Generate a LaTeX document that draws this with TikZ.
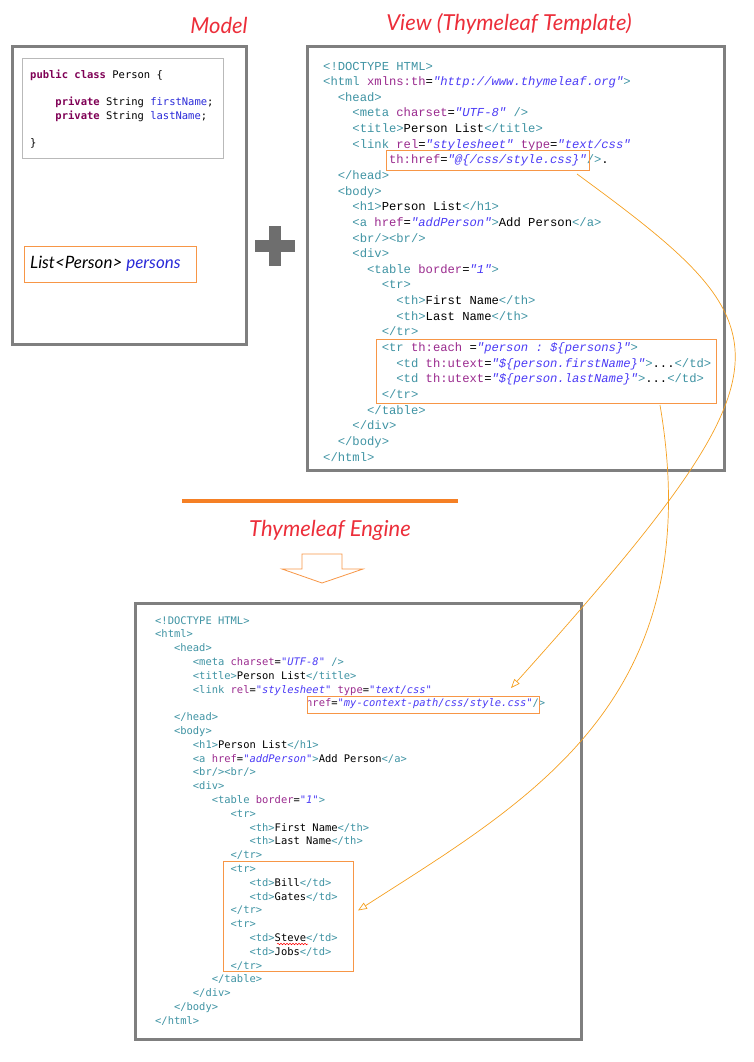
\documentclass[tikz,border=0pt]{standalone}
\usepackage{fontspec}
\setmonofont{Liberation Mono}
\newfontfamily\consolefont{DejaVu Sans Mono}
\newfontfamily\handfont{Lato}
\usetikzlibrary{arrows.meta}
\usetikzlibrary{decorations.pathmorphing}

\definecolor{tagc}{HTML}{3F93A3}
\definecolor{attc}{HTML}{9A2A8E}
\definecolor{valc}{HTML}{4A3AF5}
\definecolor{keyc}{HTML}{7F0055}
\definecolor{fieldc}{HTML}{2A2AD8}
\definecolor{framegray}{HTML}{7F7F7F}
\definecolor{hlorange}{HTML}{F79646}
\definecolor{ruleorange}{HTML}{F58025}
\definecolor{linkorange}{HTML}{F5A020}
\definecolor{titlered}{HTML}{EC2E3A}
\definecolor{plusgray}{HTML}{6E6E6E}

\newcommand{\htag}[1]{\textcolor{tagc}{#1}}
\newcommand{\hatt}[1]{\textcolor{attc}{#1}}
\newcommand{\hval}[1]{\textcolor{valc}{\itshape #1}}
\newcommand{\jkw}[1]{\textcolor{keyc}{\bfseries #1}}
\newcommand{\jfld}[1]{\textcolor{fieldc}{#1}}
\newcommand{\cind}[1]{\hspace*{#1\fontcharwd\font`x}}

\begin{document}
\begin{tikzpicture}[x=1pt,y=-1pt,
    frame/.style={draw=framegray, line width=3pt},
    hlbox/.style={draw=hlorange, line width=1pt, inner sep=0pt, anchor=north west},
    code/.style={anchor=base west, align=left, inner sep=0pt},
    title/.style={font=\handfont\itshape\fontsize{22}{24}\selectfont, text=titlered},
    flow/.style={draw=linkorange, line width=0.7pt, -{Triangle[open,length=9pt,width=7pt]}}]
  \useasboundingbox (0,0) rectangle (753,1062);

  % titles
  \node[title] (modeltitle) at (219,25) {Model};
  \node[title] (viewtitle) at (509,24) {View (Thymeleaf Template)};
  \node[title] (enginetitle) at (330,530) {Thymeleaf Engine};

  % model (code nodes sit on the baseline of their last line)
  \draw[frame] (12,47) rectangle (246,344);
  \draw[gray!55, line width=0.8pt] (22,58) rectangle (223,158);
  \node[code, font=\consolefont\fontsize{10.5}{13.7}\selectfont] (javacode) at (30,146.5) {%
    \jkw{public class} Person \{\\
    \mbox{}\\
    \cind{4}\jkw{private} String \jfld{firstName};\\
    \cind{4}\jkw{private} String \jfld{lastName};\\
    \mbox{}\\
    \}};
  \node[hlbox, minimum width=172pt, minimum height=36pt] (listbox) at (24,246) {};
  \node[anchor=west, inner sep=0pt, font=\handfont\itshape\fontsize{17}{19}\selectfont] (listtxt) at (30,264) {List<Person> \textcolor{fieldc}{persons}};

  % plus
  \draw[plusgray, line width=12pt] (255,246) -- (295,246);
  \draw[plusgray, line width=12pt] (275,226) -- (275,266);

  % template
  \draw[frame] (307,47) rectangle (724,470);
  \node[code, font=\ttfamily\fontsize{12.2}{15.64}\selectfont] (viewcode) at (323,461) {%
    \htag{<!DOCTYPE HTML>}\\
    \htag{<html} \hatt{xmlns:th}=\hval{"http://www.thymeleaf.org"}\htag{>}\\
    \cind{2}\htag{<head>}\\
    \cind{4}\htag{<meta} \hatt{charset}=\hval{"UTF-8"} \htag{/>}\\
    \cind{4}\htag{<title>}Person List\htag{</title>}\\
    \cind{4}\htag{<link} \hatt{rel}=\hval{"stylesheet"} \hatt{type}=\hval{"text/css"}\\
    \cind{9}\hatt{th:href}=\hval{"@\{/css/style.css\}"}\htag{/>}.\\
    \cind{2}\htag{</head>}\\
    \cind{2}\htag{<body>}\\
    \cind{4}\htag{<h1>}Person List\htag{</h1>}\\
    \cind{4}\htag{<a} \hatt{href}=\hval{"addPerson"}\htag{>}Add Person\htag{</a>}\\
    \cind{4}\htag{<br/><br/>}\\
    \cind{4}\htag{<div>}\\
    \cind{6}\htag{<table} \hatt{border}=\hval{"1"}\htag{>}\\
    \cind{8}\htag{<tr>}\\
    \cind{10}\htag{<th>}First Name\htag{</th>}\\
    \cind{10}\htag{<th>}Last Name\htag{</th>}\\
    \cind{8}\htag{</tr>}\\
    \cind{8}\htag{<tr} \hatt{th:each} =\hval{"person : \$\{persons\}"}\htag{>}\\
    \cind{10}\htag{<td} \hatt{th:utext}=\hval{"\$\{person.firstName\}"}\htag{>}...\htag{</td>}\\
    \cind{10}\htag{<td} \hatt{th:utext}=\hval{"\$\{person.lastName\}"}\htag{>}...\htag{</td>}\\
    \cind{8}\htag{</tr>}\\
    \cind{6}\htag{</table>}\\
    \cind{4}\htag{</div>}\\
    \cind{2}\htag{</body>}\\
    \htag{</html>}};
  \node[hlbox, minimum width=203pt, minimum height=20pt] (hrefsrc) at (386,150) {};
  \node[hlbox, minimum width=340pt, minimum height=64pt] (eachsrc) at (376,339) {};

  % engine
  \draw[ruleorange, line width=3.5pt] (182,501) -- (458,501);
  \draw[hlorange, line width=0.8pt] (302,554) -- (342,554) -- (342,569) -- (363,569)
    -- (322,583) -- (282,569) -- (302,569) -- cycle;

  % result
  \draw[frame] (135,603) rectangle (581,1039);
  \node[code, font=\consolefont\fontsize{10.45}{13.8}\selectfont] (resultcode) at (155,1024.2) {%
    \htag{<!DOCTYPE HTML>}\\
    \htag{<html>}\\
    \cind{3}\htag{<head>}\\
    \cind{6}\htag{<meta} \hatt{charset}=\hval{"UTF-8"} \htag{/>}\\
    \cind{6}\htag{<title>}Person List\htag{</title>}\\
    \cind{6}\htag{<link} \hatt{rel}=\hval{"stylesheet"} \hatt{type}=\hval{"text/css"}\\
    \cind{24}\hatt{href}=\hval{"my-context-path/css/style.css"}\htag{/>}\\
    \cind{3}\htag{</head>}\\
    \cind{3}\htag{<body>}\\
    \cind{6}\htag{<h1>}Person List\htag{</h1>}\\
    \cind{6}\htag{<a} \hatt{href}=\hval{"addPerson"}\htag{>}Add Person\htag{</a>}\\
    \cind{6}\htag{<br/><br/>}\\
    \cind{6}\htag{<div>}\\
    \cind{9}\htag{<table} \hatt{border}=\hval{"1"}\htag{>}\\
    \cind{12}\htag{<tr>}\\
    \cind{15}\htag{<th>}First Name\htag{</th>}\\
    \cind{15}\htag{<th>}Last Name\htag{</th>}\\
    \cind{12}\htag{</tr>}\\
    \cind{12}\htag{<tr>}\\
    \cind{15}\htag{<td>}Bill\htag{</td>}\\
    \cind{15}\htag{<td>}Gates\htag{</td>}\\
    \cind{12}\htag{</tr>}\\
    \cind{12}\htag{<tr>}\\
    \cind{15}\htag{<td>}Steve\htag{</td>}\\
    \cind{15}\htag{<td>}Jobs\htag{</td>}\\
    \cind{12}\htag{</tr>}\\
    \cind{9}\htag{</table>}\\
    \cind{6}\htag{</div>}\\
    \cind{3}\htag{</body>}\\
    \htag{</html>}};
  \node[hlbox, minimum width=232pt, minimum height=17pt] (hrefdst) at (307,696) {};
  \node[hlbox, minimum width=130pt, minimum height=110pt] (rowsdst) at (223,861) {};
  \draw[red, line width=0.5pt, decorate, decoration={snake, amplitude=0.8pt, segment length=3pt}] (277,944) -- (308,944);

  % connectors
  \draw[flow] ([xshift=-13pt,yshift=-3pt]hrefsrc.south east) .. controls (790,330) and (805,360) .. ([xshift=-29pt,yshift=8pt]hrefdst.north east);
  \draw[flow] ([xshift=-57pt,yshift=-1pt]eachsrc.south east) .. controls (710,700) and (530,800) .. ([xshift=4pt,yshift=6pt]rowsdst.east);
\end{tikzpicture}
\end{document}
